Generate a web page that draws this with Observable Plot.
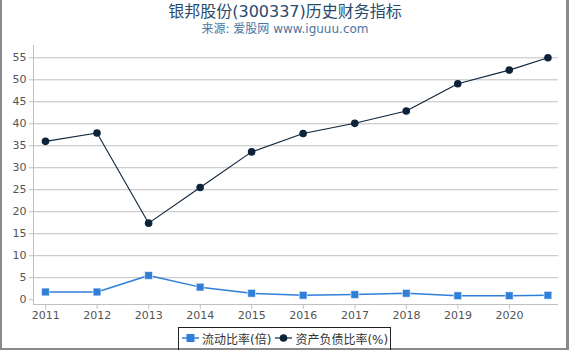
<!DOCTYPE html>
<html>
<head>
<meta charset="utf-8">
<script src="https://cdn.jsdelivr.net/npm/d3@7"></script>
<script src="https://cdn.jsdelivr.net/npm/@observablehq/plot@0.6"></script>
<style>
  html, body { margin: 0; padding: 0; background: #fff; }
  body { width: 570px; height: 350px; position: relative; overflow: hidden;
         font-family: "DejaVu Sans", "Noto Sans CJK SC", sans-serif; }
  #frame { position: absolute; left: 0; top: -4px; height: 354px; width: 569px;
           border-left: 2px solid #8a8a8a; border-right: 3px solid #8a8a8a; border-bottom: 2px solid #8a8a8a;
           box-sizing: border-box; }
  #title { position: absolute; left: 0; top: -2px; width: 570px; text-align: center;
           font-size: 16px; color: #274b6d; white-space: nowrap; }
  #subtitle { position: absolute; left: 0; top: 19px; width: 570px; text-align: center;
              font-size: 12px; color: #4d759e; white-space: nowrap; }
  #chart { position: absolute; left: 0; top: 38px; }
  #legend { position: absolute; left: 178px; top: 327px; width: 213px; height: 26px;
            border: 1px solid #222; box-sizing: border-box; font-size: 12px; color: #333;
            display: flex; align-items: center; padding-left: 3px; padding-bottom: 4px;
            white-space: nowrap; }
  .item { display: flex; align-items: center; margin-right: 4px; flex-shrink: 0; white-space: nowrap; }
  .item svg { margin-right: 3px; flex-shrink: 0; }
</style>
</head>
<body>
<div id="frame"></div>
<div id="title">银邦股份(300337)历史财务指标</div>
<div id="subtitle">来源: 爱股网 www.iguuu.com</div>
<div id="chart"></div>
<div id="legend"></div>
<script>
// Report periods (year-end, last one Q3)
const periods = ["2010-12-31","2011-12-31","2012-12-31","2013-12-31","2014-12-31",
                 "2015-12-31","2016-12-31","2017-12-31","2018-12-31","2019-12-31","2020-09-30"];
// 流动比率(倍)
const currentRatio = [1.75, 1.75, 5.5, 2.85, 1.45, 1.0, 1.15, 1.45, 0.9, 0.9, 1.0];
// 资产负债比率(%)
const debtRatio = [36.0, 37.9, 17.4, 25.5, 33.6, 37.8, 40.1, 42.9, 49.1, 52.2, 55.0];
const seriesNames = ["流动比率(倍)", "资产负债比率(%)"];
const seriesColors = ["#2f7ed8", "#0d233a"];
const xTickYears = [2011,2012,2013,2014,2015,2016,2017,2018,2019,2020];
const yTicks = [0,5,10,15,20,25,30,35,40,45,50,55];

const parse = d3.utcParse("%Y-%m-%d");
const rows = periods.map((p, i) => ({date: parse(p), cur: currentRatio[i], debt: debtRatio[i]}));
const xDomain = [new Date(Date.UTC(2010, 9, 7)), new Date(Date.UTC(2020, 11, 14))];
const yDomain = [-1.1, 57.8];
const xTicks = xTickYears.map(y => new Date(Date.UTC(y, 0, 1)));

const chart = Plot.plot({
  width: 570,
  height: 290,
  marginLeft: 33,
  marginRight: 12,
  marginTop: 7,
  marginBottom: 24,
  style: {fontFamily: "DejaVu Sans, sans-serif", fontSize: "11px", color: "#555", background: "transparent"},
  x: {type: "utc", domain: xDomain},
  y: {domain: yDomain},
  marks: [
    Plot.gridY(yTicks.filter(t => t > 0), {stroke: "#c0c0c0", strokeOpacity: 1}),
    Plot.ruleX([xDomain[0]], {stroke: "#c0c0c0"}),
    Plot.ruleY([yDomain[0]], {stroke: "#c0c0c0"}),
    Plot.axisY(yTicks, {tickSize: 4, tickPadding: 3, stroke: "#c0c0c0", fill: "#555", label: null}),
    Plot.axisX(xTicks, {tickSize: 5, tickPadding: 2, stroke: "#c0c0c0", fill: "#555", tickFormat: d3.utcFormat("%Y"), label: null}),
    Plot.line(rows, {x: "date", y: "cur", stroke: seriesColors[0], strokeWidth: 1.5}),
    Plot.dot(rows, {x: "date", y: "cur", symbol: "square", r: 4.4, fill: seriesColors[0], stroke: "#fff", strokeWidth: 0.6}),
    Plot.line(rows, {x: "date", y: "debt", stroke: seriesColors[1], strokeWidth: 1.1}),
    Plot.dot(rows, {x: "date", y: "debt", r: 3.8, fill: seriesColors[1]})
  ]
});
document.getElementById("chart").appendChild(chart);

// Legend
const legend = document.getElementById("legend");
seriesNames.forEach((name, i) => {
  const item = document.createElement("div");
  item.className = "item";
  const sym = i === 0
    ? `<svg width="17" height="10"><line x1="0" y1="5" x2="17" y2="5" stroke="${seriesColors[i]}" stroke-width="1.5"/><rect x="4.5" y="1" width="8" height="8" fill="${seriesColors[i]}"/></svg>`
    : `<svg width="17" height="10"><line x1="0" y1="5" x2="17" y2="5" stroke="${seriesColors[i]}" stroke-width="1.2"/><circle cx="8.5" cy="5" r="3.8" fill="${seriesColors[i]}"/></svg>`;
  item.innerHTML = sym + `<span>${name}</span>`;
  legend.appendChild(item);
});
</script>
</body>
</html>
